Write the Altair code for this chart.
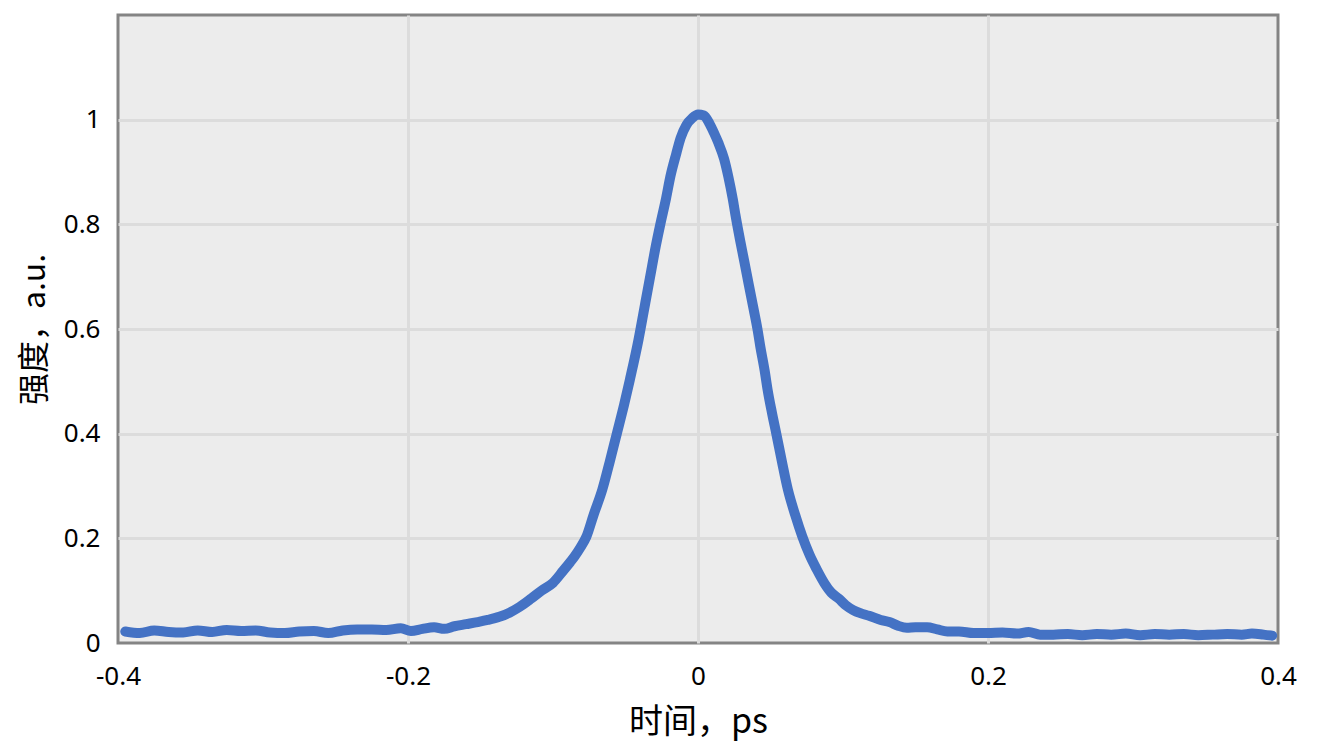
import altair as alt
import pandas as pd

t_ps = [
    -0.395, -0.385, -0.375, -0.365, -0.355, -0.345, -0.335, -0.325, -0.315, -0.305,
    -0.295, -0.285, -0.275, -0.265, -0.255, -0.245, -0.235, -0.225, -0.215, -0.205,
    -0.198, -0.190, -0.182, -0.175, -0.168, -0.160, -0.152, -0.145, -0.137, -0.130,
    -0.123, -0.115, -0.108, -0.100, -0.093, -0.088, -0.085, -0.081, -0.077, -0.072,
    -0.066, -0.061, -0.056, -0.051, -0.047, -0.041, -0.037, -0.033, -0.029, -0.026,
    -0.022, -0.019, -0.015, -0.012, -0.008, -0.004, 0.000, 0.004, 0.008, 0.011,
    0.014, 0.018, 0.021, 0.024, 0.026, 0.029, 0.032, 0.035, 0.038, 0.041,
    0.043, 0.046, 0.048, 0.051, 0.054, 0.058, 0.062, 0.067, 0.072, 0.077,
    0.082, 0.087, 0.092, 0.097, 0.102, 0.107, 0.112, 0.118, 0.126, 0.132,
    0.138, 0.144, 0.150, 0.158, 0.165, 0.172, 0.180, 0.190, 0.200, 0.210,
    0.220, 0.228, 0.236, 0.245, 0.255, 0.265, 0.275, 0.285, 0.295, 0.305,
    0.315, 0.325, 0.335, 0.345, 0.355, 0.365, 0.375, 0.382, 0.390, 0.396,
]
intensity = [
    0.022, 0.019, 0.024, 0.021, 0.020, 0.024, 0.021, 0.025, 0.023, 0.024,
    0.020, 0.019, 0.022, 0.023, 0.019, 0.024, 0.026, 0.026, 0.025, 0.028,
    0.023, 0.027, 0.030, 0.027, 0.032, 0.036, 0.040, 0.044, 0.050, 0.058,
    0.069, 0.085, 0.100, 0.115, 0.138, 0.155, 0.166, 0.183, 0.203, 0.245,
    0.293, 0.345, 0.400, 0.455, 0.503, 0.580, 0.640, 0.700, 0.760, 0.800,
    0.850, 0.892, 0.935, 0.965, 0.990, 1.003, 1.010, 1.008, 0.992, 0.975,
    0.956, 0.925, 0.890, 0.848, 0.815, 0.770, 0.728, 0.685, 0.643, 0.600,
    0.566, 0.520, 0.484, 0.440, 0.400, 0.345, 0.293, 0.245, 0.203, 0.168,
    0.140, 0.115, 0.096, 0.085, 0.072, 0.063, 0.057, 0.052, 0.044, 0.040,
    0.033, 0.029, 0.030, 0.030, 0.026, 0.022, 0.022, 0.019, 0.019, 0.020,
    0.018, 0.021, 0.016, 0.016, 0.017, 0.015, 0.017, 0.016, 0.018, 0.015,
    0.017, 0.016, 0.017, 0.015, 0.016, 0.017, 0.016, 0.018, 0.016, 0.014,
]
x_ticks = [-0.4, -0.2, 0, 0.2, 0.4]
y_ticks = [0, 0.2, 0.4, 0.6, 0.8, 1.0]

df = pd.DataFrame({"t": t_ps, "v": intensity})

label_font = "Noto Sans"
title_font = "Noto Sans CJK SC"

chart = alt.Chart(df).mark_line(
    color="#4472C4", strokeWidth=10, strokeCap="round", strokeJoin="round",
    interpolate="monotone"
).encode(
    x=alt.X(
        "t:Q",
        scale=alt.Scale(domain=[-0.4, 0.4], nice=False),
        axis=alt.Axis(
            title="时间，ps",
            values=x_ticks,
            labelExpr="datum.value == 0 ? '0' : toString(round(datum.value*10)/10)",
            labelFlush=False,
            grid=True,
            gridColor="#dcdcdc",
            gridWidth=3,
            gridOpacity={"condition": {"test": "abs(datum.value) > 0.39", "value": 0}, "value": 1},
            domain=False,
            ticks=False,
            labelPadding=20,
            labelFontSize=26,
            labelFont=label_font,
            labelColor="#000000",
            titleFont=title_font,
            titleFontSize=34,
            titleFontWeight="normal",
            titleColor="#000000",
            titlePadding=16,
        ),
    ),
    y=alt.Y(
        "v:Q",
        scale=alt.Scale(domain=[0, 1.2], nice=False),
        axis=alt.Axis(
            title="强度，a.u.",
            values=y_ticks,
            labelExpr="datum.value == 0 ? '0' : datum.value == 1 ? '1' : toString(round(datum.value*10)/10)",
            grid=True,
            gridColor="#dcdcdc",
            gridWidth=3,
            gridOpacity={"condition": {"test": "datum.value < 0.01", "value": 0}, "value": 1},
            domain=False,
            ticks=False,
            labelPadding=18,
            labelFontSize=26,
            labelFont=label_font,
            labelColor="#000000",
            titleFont=title_font,
            titleFontSize=32,
            titleFontWeight="normal",
            titleColor="#000000",
            titlePadding=12,
        ),
    ),
).properties(
    width=1160,
    height=628,
    autosize=alt.AutoSizeParams(type="none"),
    padding={"left": 110, "top": 7, "right": 40, "bottom": 100},
).configure(
    background="#ffffff",
).configure_view(
    fill="#ececec",
    stroke="#848484",
    strokeWidth=3,
)

chart.save("out.html", embed_options={"renderer": "svg", "actions": False})
